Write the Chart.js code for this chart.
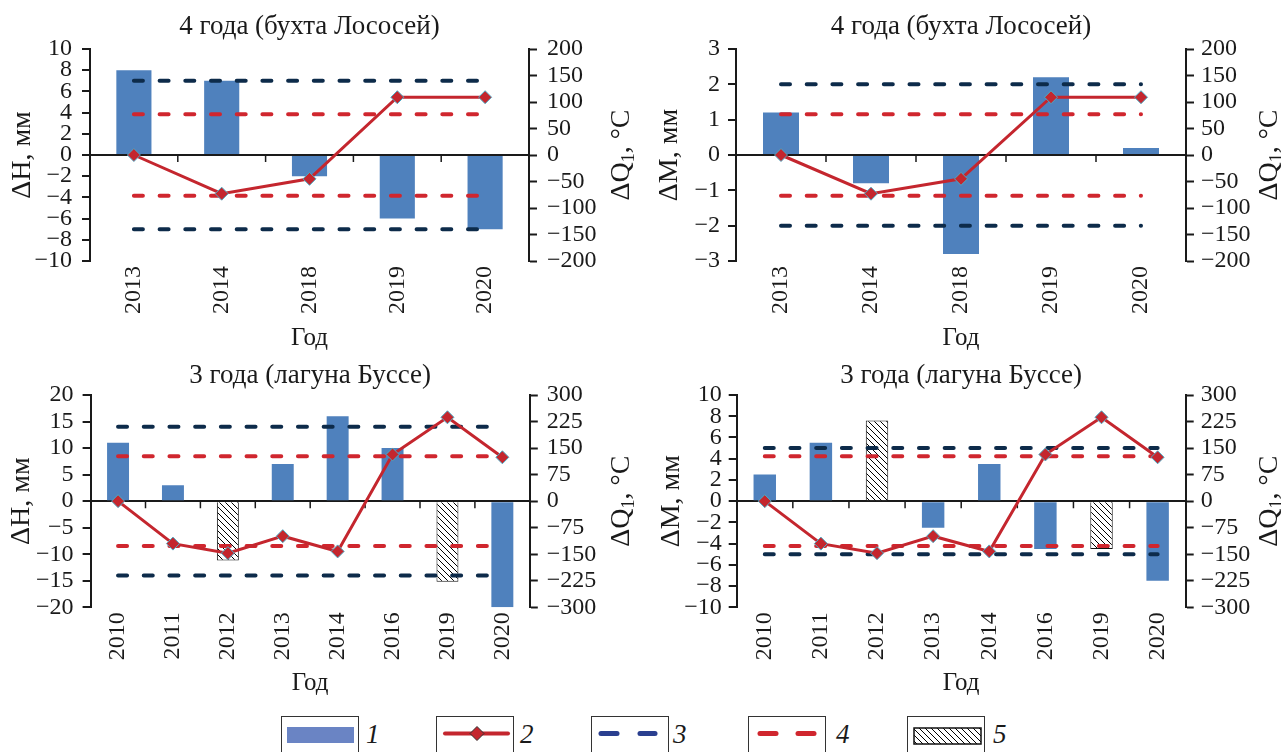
<!DOCTYPE html>
<html>
<head>
<meta charset="utf-8">
<script src="https://cdn.jsdelivr.net/npm/chart.js@4.4.1/dist/chart.umd.min.js"></script>
<style>
  body { margin: 0; background: #fff; width: 1281px; height: 752px; overflow: hidden; position: relative; font-family: 'Liberation Serif', 'Times New Roman', serif; color: #1a1a1a; }
  .panel { position: absolute; }
  .lg { position: absolute; top: 716px; width: 78px; height: 40px; border: 1.5px solid #333; box-sizing: border-box; background: #fff; }
  .lg svg { position: absolute; left: 0; top: 0; }
  .lgn { position: absolute; top: 721px; font: italic 27px 'Liberation Serif', serif; line-height: 1; }
</style>
</head>
<body>
<div class="panel" style="left:0;top:0"><canvas id="c1" width="640" height="355"></canvas></div>
<div class="panel" style="left:640px;top:0"><canvas id="c2" width="641" height="355"></canvas></div>
<div class="panel" style="left:0;top:355px"><canvas id="c3" width="640" height="345"></canvas></div>
<div class="panel" style="left:640px;top:355px"><canvas id="c4" width="641" height="345"></canvas></div>

<div class="lg" style="left:281px">
  <svg width="78" height="40"><rect x="5" y="10" width="67" height="16" fill="#6a84c4"/></svg>
</div>
<span class="lgn" style="left:366px">1</span>
<div class="lg" style="left:436px">
  <svg width="78" height="40">
    <line x1="8" y1="16.5" x2="71" y2="16.5" stroke="#c4262e" stroke-width="4" stroke-linecap="round"/>
    <polygon points="40,9.5 47,16.5 40,23.5 33,16.5" fill="#c4262e" stroke="#333" stroke-width="1"/>
  </svg>
</div>
<span class="lgn" style="left:520px">2</span>
<div class="lg" style="left:591px">
  <svg width="78" height="40">
    <line x1="9" y1="16.5" x2="25" y2="16.5" stroke="#2a3f8f" stroke-width="5" stroke-linecap="round"/>
    <line x1="48" y1="16.5" x2="63" y2="16.5" stroke="#2a3f8f" stroke-width="5" stroke-linecap="round"/>
  </svg>
</div>
<span class="lgn" style="left:673px">3</span>
<div class="lg" style="left:748px">
  <svg width="78" height="40">
    <line x1="11" y1="16.5" x2="27" y2="16.5" stroke="#d0262e" stroke-width="5" stroke-linecap="round"/>
    <line x1="49" y1="16.5" x2="65" y2="16.5" stroke="#d0262e" stroke-width="5" stroke-linecap="round"/>
  </svg>
</div>
<span class="lgn" style="left:836px">4</span>
<div class="lg" style="left:907px">
  <svg width="78" height="40">
    <defs>
      <pattern id="hp" width="6" height="6" patternUnits="userSpaceOnUse">
        <path d="M0,0 L6,6 M-1,5 L1,7 M5,-1 L7,1" stroke="#000" stroke-width="1"/>
      </pattern>
    </defs>
    <rect x="6" y="11" width="67" height="16" fill="url(#hp)" stroke="#111" stroke-width="1.5"/>
  </svg>
</div>
<span class="lgn" style="left:993px">5</span>

<script>
// --- data ---
const yearsA = ['2013', '2014', '2018', '2019', '2020'];
const yearsB = ['2010', '2011', '2012', '2013', '2014', '2016', '2019', '2020'];

const titleA = '4 года (бухта Лососей)';
const titleB = '3 года (лагуна Буссе)';

// top panels
const dH_A = [8, 7, -2, -6, -7];
const dM_A = [1.2, -0.8, -2.8, 2.2, 0.2];
const dQ_A = [0, -73, -45, 109, 109];
const navyH_A = [7, 7, 7, 7, 7];
const navyM_A = [2, 2, 2, 2, 2];
const redQ_A = [77, 77, 77, 77, 77];

// bottom panels
const dH_B = [11, 3, null, 7, 16, 10, null, -20];
const dH_B5 = [null, null, -11.2, null, null, null, -15.2, null];
const dM_B = [2.5, 5.5, null, -2.5, 3.5, -4.5, null, -7.5];
const dM_B5 = [null, null, 7.6, null, null, null, -4.5, null];
const dQ_B = [0, -120, -147, -99, -142, 132, 237, 124];
const navyH_B = [14, 14, 14, 14, 14, 14, 14, 14];
const navyM_B = [5, 5, 5, 5, 5, 5, 5, 5];
const redQ_B = [127, 127, 127, 127, 127, 127, 127, 127];

const BLUE = '#4f81bd';
const RED = '#c4262e';
const RED_D = '#d0262e';
const NAVY = '#0d2b4a';
const INK = '#1a1a1a';
const SERIF = "'Liberation Serif', 'Times New Roman', serif";

Chart.defaults.font.family = SERIF;
Chart.defaults.color = INK;

function hatchFor(id) {
    const t = document.createElement('canvas');
    t.width = 6; t.height = 6;
    const g = t.getContext('2d');
    g.fillStyle = '#fff';
    g.fillRect(0, 0, 6, 6);
    g.strokeStyle = '#000';
    g.lineWidth = 1;
    g.beginPath();
    g.moveTo(0, 0); g.lineTo(6, 6);
    g.moveTo(-1, 5); g.lineTo(1, 7);
    g.moveTo(5, -1); g.lineTo(7, 1);
    g.stroke();
    return document.getElementById(id).getContext('2d').createPattern(t, 'repeat');
}

// small category ticks on the zero line + right axis title read bottom-to-top
const extras = {
    id: 'extras',
    beforeDatasetsDraw(chart) {
        const { ctx, scales: { x, y } } = chart;
        const y0 = y.getPixelForValue(0);
        ctx.save();
        ctx.strokeStyle = INK;
        ctx.lineWidth = 1.5;
        ctx.beginPath();
        for (let i = 1; i < x.ticks.length; i++) {
            const px = (x.getPixelForTick(i - 1) + x.getPixelForTick(i)) / 2;
            ctx.moveTo(px, y0);
            ctx.lineTo(px, y0 + 7);
        }
        ctx.stroke();
        ctx.restore();
    },
    afterDraw(chart, args, opts) {
        const { ctx, chartArea: a } = chart;
        const big = '28px ' + SERIF, small = '18px ' + SERIF;
        ctx.save();
        ctx.translate(opts.x, (a.top + a.bottom) / 2);
        ctx.rotate(-Math.PI / 2);
        ctx.fillStyle = INK;
        ctx.textAlign = 'left';
        ctx.textBaseline = 'alphabetic';
        ctx.font = big;
        const w1 = ctx.measureText('ΔQ').width;
        const w3 = ctx.measureText(', °C').width;
        ctx.font = small;
        const w2 = ctx.measureText('1').width;
        let sx = -(w1 + w2 + w3) / 2;
        ctx.font = big; ctx.fillText('ΔQ', sx, 9); sx += w1;
        ctx.font = small; ctx.fillText('1', sx, 14); sx += w2;
        ctx.font = big; ctx.fillText(', °C', sx, 9);
        ctx.restore();
    }
};

const minus = v => (v < 0 ? '\u2212' + Math.abs(v) : '' + v);

function makeChart(id, p) {
    const datasets = [
        { type: 'line', data: p.q, yAxisID: 'y1', borderColor: RED, borderWidth: 3,
          pointStyle: 'rectRot', pointRadius: 6.5, pointBackgroundColor: RED,
          pointBorderColor: '#4bacc6', pointBorderWidth: 1, order: 0 },
        { type: 'line', data: p.navy, yAxisID: 'y', borderColor: NAVY, borderWidth: 4,
          borderDash: [9, 16.7], borderCapStyle: 'round', pointRadius: 0, order: 1 },
        { type: 'line', data: p.navy.map(v => -v), yAxisID: 'y', borderColor: NAVY, borderWidth: 4,
          borderDash: [9, 16.7], borderCapStyle: 'round', pointRadius: 0, order: 1 },
        { type: 'line', data: p.red, yAxisID: 'y1', borderColor: RED_D, borderWidth: 4,
          borderDash: [9, 16.7], borderCapStyle: 'round', pointRadius: 0, order: 1 },
        { type: 'line', data: p.red.map(v => -v), yAxisID: 'y1', borderColor: RED_D, borderWidth: 4,
          borderDash: [9, 16.7], borderCapStyle: 'round', pointRadius: 0, order: 1 },
        { type: 'bar', data: p.bars, yAxisID: 'y', backgroundColor: BLUE, borderWidth: 0,
          grouped: false, barPercentage: 0.4, categoryPercentage: 1, order: 2 }
    ];
    if (p.hatch) {
        datasets.push({ type: 'bar', data: p.hatch, yAxisID: 'y', backgroundColor: hatchFor(id),
          borderColor: '#111', borderWidth: 1, grouped: false, barPercentage: 0.4,
          categoryPercentage: 1, order: 2 });
    }
    const L = p.L;
    new Chart(document.getElementById(id), {
        data: { labels: p.labels, datasets },
        plugins: [extras],
        options: {
            responsive: false,
            animation: false,
            devicePixelRatio: 1,
            events: [],
            layout: { padding: 0 },
            plugins: {
                legend: { display: false },
                tooltip: { enabled: false },
                title: { display: true, text: p.title, fullSize: false,
                         font: { size: 27, weight: 'normal' }, color: INK,
                         padding: { top: L.tTop, bottom: L.tBot } },
                extras: { x: L.qx }
            },
            scales: {
                x: {
                    grid: { display: false },
                    border: { display: false },
                    ticks: { autoSkip: false, minRotation: 90, maxRotation: 90, padding: -3,
                             font: { size: 24 }, color: INK },
                    title: { display: true, text: 'Год', font: { size: 25 }, color: INK,
                             padding: { top: 0, bottom: L.xPad } },
                    afterFit: s => { s.height = L.xH; }
                },
                y: {
                    position: 'left',
                    min: p.yMin, max: p.yMax,
                    ticks: { stepSize: p.yStep, autoSkip: false, padding: L.yPad, font: { size: 24 },
                             color: INK, callback: minus },
                    grid: { drawOnChartArea: true, drawTicks: true, tickLength: 8,
                            color: c => (c.tick && c.tick.value === 0 ? INK : 'rgba(0,0,0,0)'),
                            tickColor: INK, lineWidth: 2, tickWidth: 2 },
                    border: { display: true, color: INK, width: 2 },
                    title: { display: true, text: p.yTitle, font: { size: 28 }, color: INK,
                             padding: { top: L.yTitlePad, bottom: 0 } },
                    afterFit: s => { s.width = L.yW; }
                },
                y1: {
                    position: 'right',
                    min: p.y1Min, max: p.y1Max,
                    ticks: { stepSize: p.y1Step, autoSkip: false, padding: L.y1Pad, font: { size: 24 },
                             color: INK, callback: minus },
                    grid: { drawOnChartArea: false, drawTicks: true, tickLength: 8,
                            tickColor: INK, tickWidth: 2 },
                    border: { display: true, color: INK, width: 2 },
                    afterFit: s => { s.width = L.y1W; }
                }
            }
        }
    });
}

makeChart('c1', {
    labels: yearsA, title: titleA, bars: dH_A, q: dQ_A, navy: navyH_A, red: redQ_A,
    yMin: -10, yMax: 10, yStep: 2, y1Min: -200, y1Max: 200, y1Step: 50, yTitle: 'ΔH, мм',
    L: { yW: 90, y1W: 111, xH: 94, xPad: 2, tTop: 10.8, tBot: 5.8, yTitlePad: 6.2, yPad: 10, y1Pad: 10, qx: 620 }
});
makeChart('c2', {
    labels: yearsA, title: titleA, bars: dM_A, q: dQ_A, navy: navyM_A, red: redQ_A,
    yMin: -3, yMax: 3, yStep: 1, y1Min: -200, y1Max: 200, y1Step: 50, yTitle: 'ΔM, мм',
    L: { yW: 96, y1W: 95, xH: 94, xPad: 2, tTop: 10.8, tBot: 5.8, yTitlePad: 13.2, yPad: 8, y1Pad: 7, qx: 628 }
});
makeChart('c3', {
    labels: yearsB, title: titleB, bars: dH_B, hatch: dH_B5, q: dQ_B, navy: navyH_B, red: redQ_B,
    yMin: -20, yMax: 20, yStep: 5, y1Min: -300, y1Max: 300, y1Step: 75, yTitle: 'ΔH, мм',
    L: { yW: 90.6, y1W: 110.2, xH: 92.7, xPad: 1.7, tTop: 4.8, tBot: 2.8, yTitlePad: 4.7, yPad: 9, y1Pad: 9, qx: 620 }
});
makeChart('c4', {
    labels: yearsB, title: titleB, bars: dM_B, hatch: dM_B5, q: dQ_B, navy: navyM_B, red: redQ_B,
    yMin: -10, yMax: 10, yStep: 2, y1Min: -300, y1Max: 300, y1Step: 75, yTitle: 'ΔM, мм',
    L: { yW: 96.7, y1W: 95.3, xH: 92.7, xPad: 1.7, tTop: 4.8, tBot: 2.8, yTitlePad: 14.9, yPad: 7, y1Pad: 7, qx: 628 }
});
</script>
</body>
</html>
